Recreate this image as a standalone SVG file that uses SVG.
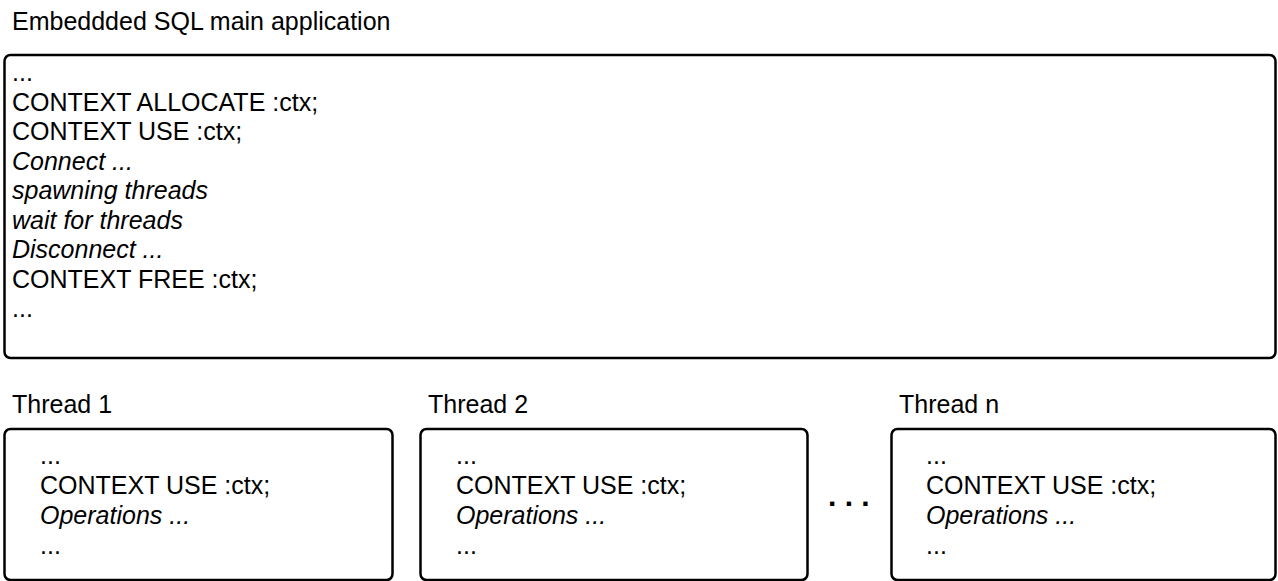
<svg xmlns="http://www.w3.org/2000/svg" width="1278" height="581" viewBox="0 0 1278 581">
<style>
text{font-family:"Liberation Sans",Arial,sans-serif;font-size:25px;fill:#000}
.i{font-style:italic}
.box{fill:#fff;stroke:#000;stroke-width:2.5}
</style>
<rect width="1278" height="581" fill="#fff"/>
<g id="main">
<text x="12" y="30">Embeddded SQL main application</text>
<rect class="box" x="4.5" y="55" width="1271" height="303" rx="6"/>
<text x="12" y="81">...</text>
<text x="12" y="110.5">CONTEXT ALLOCATE :ctx;</text>
<text x="12" y="140">CONTEXT USE :ctx;</text>
<text x="12" y="169.5" class="i">Connect ...</text>
<text x="12" y="199" class="i">spawning threads</text>
<text x="12" y="228.5" class="i">wait for threads</text>
<text x="12" y="258" class="i">Disconnect ...</text>
<text x="12" y="287.5">CONTEXT FREE :ctx;</text>
<text x="12" y="317">...</text>
</g>
<g id="thread1">
<text x="12" y="413">Thread 1</text>
<rect class="box" x="4.5" y="429" width="388" height="151" rx="6"/>
<text x="40" y="464">...</text>
<text x="40" y="494">CONTEXT USE :ctx;</text>
<text x="40" y="524" class="i">Operations ...</text>
<text x="40" y="554">...</text>
</g>
<g id="thread2">
<text x="428" y="413">Thread 2</text>
<rect class="box" x="420.5" y="429" width="387" height="151" rx="6"/>
<text x="456" y="464">...</text>
<text x="456" y="494">CONTEXT USE :ctx;</text>
<text x="456" y="524" class="i">Operations ...</text>
<text x="456" y="554">...</text>
</g>
<g id="ellipsis">
<text x="828" y="506" style="font-size:30px;font-weight:bold">. . .</text>
</g>
<g id="threadn">
<text x="899" y="413">Thread n</text>
<rect class="box" x="891.5" y="429" width="384" height="151" rx="6"/>
<text x="926" y="464">...</text>
<text x="926" y="494">CONTEXT USE :ctx;</text>
<text x="926" y="524" class="i">Operations ...</text>
<text x="926" y="554">...</text>
</g>
<g id="connectors"></g>
</svg>
